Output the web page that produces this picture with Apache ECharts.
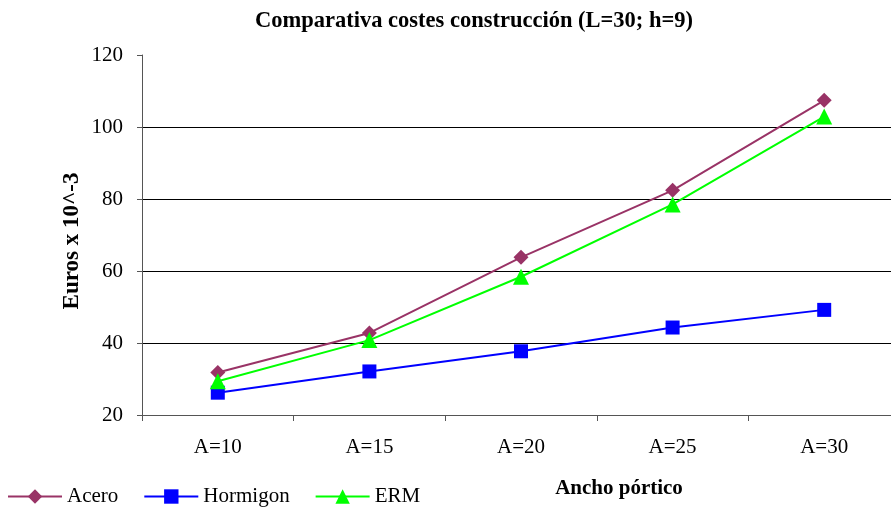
<!DOCTYPE html>
<html><head><meta charset="utf-8">
<script src="https://cdn.jsdelivr.net/npm/echarts@6/dist/echarts.min.js"></script>
<style>html,body{margin:0;padding:0;background:#fff;overflow:hidden;width:891px;height:507px}#c{width:900px;height:507px}</style>
</head><body><div id="c"></div>
<script>
var categories = ['A=10','A=15','A=20','A=25','A=30'];
var acero = [31.8, 42.8, 63.8, 82.4, 107.4];
var hormigon = [26.2, 32.1, 37.7, 44.3, 49.2];
var erm = [29.4, 40.8, 58.4, 78.5, 102.9];
var yTicks = [20, 40, 60, 80, 100, 120];

var F = '"Liberation Serif","Times New Roman",serif';
var chart = echarts.init(document.getElementById('c'), null, {renderer:'canvas'});
chart.setOption({
  animation:false,
  textStyle:{fontFamily:F},
  title:[
    {text:'Comparativa costes construcción (L=30; h=9)', left:469, top:5, textAlign:'center',
     textStyle:{fontFamily:F, fontSize:22.5, fontWeight:'bold', color:'#000'}},
    {text:'Ancho pórtico', left:614, top:473, textAlign:'center',
     textStyle:{fontFamily:F, fontSize:21, fontWeight:'bold', color:'#000'}}
  ],
  graphic:[
    {type:'text', x:72, y:241, rotation:Math.PI/2,
     style:{text:'Euros x 10^-3', font:'bold 23px ' + F, fill:'#000', align:'center', verticalAlign:'middle'}}
  ],
  legend:{
    left:2, top:481, padding:5, itemWidth:54, itemHeight:18, itemGap:25,
    textStyle:{fontFamily:F, fontSize:21, color:'#000'},
    data:['Acero','Hormigon','ERM']
  },
  grid:{left:142, top:55, width:758, height:360, containLabel:false},
  xAxis:{
    type:'category', data:categories, boundaryGap:true,
    axisLine:{lineStyle:{color:'#555', width:1}},
    axisTick:{show:true, length:6, lineStyle:{color:'#555'}},
    axisLabel:{fontFamily:F, fontSize:21, color:'#000', margin:22},
    splitLine:{show:false}
  },
  yAxis:{
    type:'value', min:yTicks[0], max:yTicks[yTicks.length-1], interval:20,
    axisLine:{show:true, lineStyle:{color:'#555', width:1}},
    axisTick:{show:true, length:5, lineStyle:{color:'#555'}},
    axisLabel:{fontFamily:F, fontSize:21, color:'#000', margin:19},
    splitLine:{show:true, lineStyle:{color:'#000', width:1}, showMaxLine:false}
  },
  series:[
    {name:'Acero', type:'line', data:acero, symbol:'diamond', symbolSize:15,
     lineStyle:{color:'#993366', width:2}, itemStyle:{color:'#993366'}},
    {name:'Hormigon', type:'line', data:hormigon, symbol:'rect', symbolSize:14,
     lineStyle:{color:'#0000ff', width:2}, itemStyle:{color:'#0000ff'}},
    {name:'ERM', type:'line', data:erm, symbol:'triangle', symbolSize:16,
     lineStyle:{color:'#00ff00', width:2}, itemStyle:{color:'#00ff00'}}
  ]
});
</script></body></html>
